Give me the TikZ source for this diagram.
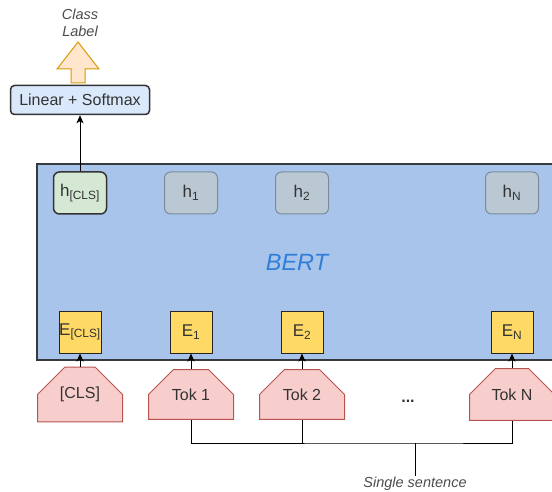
\documentclass[tikz,border=0pt]{standalone}
\usepackage{fontspec}
\setmainfont{Liberation Sans}
\usetikzlibrary{shapes.misc,arrows.meta}

\definecolor{bertfill}{HTML}{A9C4EB}
\definecolor{bertline}{HTML}{36393D}
\definecolor{bertblue}{HTML}{2F7ED8}
\definecolor{clsfill}{HTML}{D5E8D4}
\definecolor{hidfill}{HTML}{BAC8D3}
\definecolor{hidline}{HTML}{7A8C9C}
\definecolor{embfill}{HTML}{FFD966}
\definecolor{tokfill}{HTML}{F8CECC}
\definecolor{tokline}{HTML}{B85450}
\definecolor{linfill}{HTML}{DAE8FC}
\definecolor{arrfill}{HTML}{FFE6CC}
\definecolor{arrline}{HTML}{D79B00}
\definecolor{txtgray}{HTML}{333333}

\begin{document}
\begin{tikzpicture}[x=1pt,y=1pt,->,>={Stealth[length=8pt,width=7pt,inset=2pt]},node distance=111pt,
    font=\fontsize{16}{18}\selectfont,text=txtgray,
    bert box/.style={draw=bertline,line width=1.5pt,fill=bertfill,minimum width=520pt,minimum height=196pt,
        font=\fontsize{23.5}{26}\selectfont\itshape,text=bertblue},
    hid node/.style={draw=hidline,line width=1pt,fill=hidfill,rounded corners=6pt,minimum width=53pt,minimum height=42pt,inner sep=0pt,
        font=\fontsize{17}{19}\selectfont},
    cls node/.style={hid node,draw=txtgray,line width=1.5pt,fill=clsfill},
    emb node/.style={draw=black!85,line width=1pt,fill=embfill,minimum width=42pt,minimum height=42pt,inner sep=0pt,
        font=\fontsize{17}{19}\selectfont},
    tok node/.style={chamfered rectangle,chamfered rectangle corners={north west,north east},
        chamfered rectangle xsep=20pt,chamfered rectangle ysep=20pt,
        draw=tokline,line width=1pt,fill=tokfill,minimum width=85pt,minimum height=43pt,inner sep=0pt},
    lin node/.style={draw=txtgray,line width=1.5pt,fill=linfill,rounded corners=4pt,minimum width=139pt,minimum height=29pt,inner sep=0pt},
    note/.style={font=\fontsize{14.5}{17}\selectfont\itshape,text=black!70,align=center}]

            \clip (0,0) rectangle (552,491);

            \node[bert box] (bert) at (297,229) {BERT};

            \node[cls node] (hcls) at (80,298) {h\textsubscript{[CLS]}};
            \node[hid node] (h1) [right of = hcls] {h\textsubscript{1}};
            \node[hid node] (h2) [right of = h1] {h\textsubscript{2}};
            \node[hid node] (hN) [right of = h2, node distance=210pt] {h\textsubscript{N}};

            \node[emb node] (ecls) [below of = hcls, node distance=139pt] {E\textsubscript{[CLS]}};
            \node[emb node] (e1) [below of = h1, node distance=139pt] {E\textsubscript{1}};
            \node[emb node] (e2) [below of = h2, node distance=139pt] {E\textsubscript{2}};
            \node[emb node] (eN) [below of = hN, node distance=139pt] {E\textsubscript{N}};

            \node[tok node] (tcls) [below of = ecls, node distance=62.5pt] {[CLS]};
            \node[tok node] (t1) [below of = e1, node distance=62.5pt] {Tok 1};
            \node[tok node] (t2) [below of = e2, node distance=62.5pt] {Tok 2};
            \node[tok node] (tN) [below of = eN, node distance=62.5pt] {Tok N};
            \node (dots) [right of = t2, node distance=106pt, yshift=-7pt] {\textbf{...}};

            \node[lin node] (lin) [above of = hcls, node distance=93pt] {Linear + Softmax};
            \node[note] (label) [above of = lin, node distance=77pt] {Class\\Label};
            \node[note] (sentence) at (415,7) {Single sentence};
            \coordinate (sent) at (415,48);

            % output arrow above the classifier
            \draw[-,fill=arrfill,draw=arrline,line width=1pt,line join=miter]
                (71,408) -- (71,422) -- (57,422) -- (78,449) -- (99,422) -- (85,422) -- (85,408) -- cycle;

            \draw[line width=1pt] (hcls) to (lin);
            \draw[line width=1pt] (tcls) to (ecls);
            \draw[line width=1pt] (t1) to (e1);
            \draw[line width=1pt] (t2) to (e2);
            \draw[line width=1pt] (tN) to (eN);

            \draw[-,line width=1pt] (t1.south) |- (sent) -| (tN.south);
            \draw[-,line width=1pt] (t2.south) -- (t2.south |- sent);
            \draw[-,line width=1pt] (sent) -- ([yshift=-2pt]sentence.north);

        \end{tikzpicture}
\end{document}
